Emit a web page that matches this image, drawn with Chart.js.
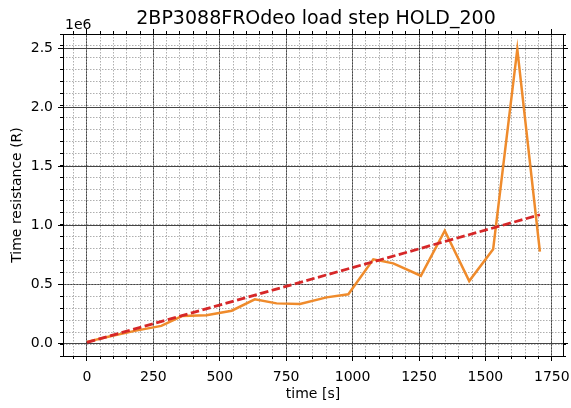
<!DOCTYPE html>
<html>
<head>
<meta charset="utf-8">
<script src="https://cdn.jsdelivr.net/npm/chart.js@4/dist/chart.umd.min.js"></script>
<style>
  body { margin: 0; background: #fff; }
  #chart { display: block; }
</style>
</head>
<body>
<canvas id="chart" width="571" height="408"></canvas>
<script>
// measured hold step: time [s] vs. time resistance (R)
var times = [0, 92, 185, 280, 358, 450, 545, 632, 714, 802, 902, 984, 1078, 1153, 1257, 1347, 1439, 1529, 1620, 1705];
var resistance = [10000, 60000, 105000, 145000, 229000, 235000, 274000, 370000, 336000, 330000, 387000, 413000,
                  709000, 675000, 570000, 952000, 525000, 794000, 2490000, 774000];

// linear trend over the same step
var trendTimes = [0, 1705];
var trendValues = [5000, 1087000];

var xMajorTicks = [0, 250, 500, 750, 1000, 1250, 1500, 1750];
var xTickLabels = ["0", "250", "500", "750", "1000", "1250", "1500", "1750"];
var yMajorTicks = [0, 500000, 1000000, 1500000, 2000000, 2500000];
var yTickLabels = ["0.0", "0.5", "1.0", "1.5", "2.0", "2.5"];

var TITLE = "2BP3088FROdeo load step HOLD_200";

var X_MIN = -90, X_MAX = 1792;
var Y_MIN = -110000, Y_MAX = 2619000;

var FONT = "'DejaVu Sans', sans-serif";
var MAJOR_GRID = "#444";
var MINOR_GRID = "#9a9a9a";

function toPoints(xs, ys) {
  return xs.map(function(x, i) { return { x: x, y: ys[i] }; });
}

// force a scale box to a fixed thickness so the plot frame lands where we want it
function pinSize(size) {
  return function(scale) {
    if (scale.isHorizontal()) scale.height = size;
    else scale.width = size;
    scale.paddingLeft = scale.paddingRight = 0;
    scale.paddingTop = scale.paddingBottom = 0;
  };
}

function majorTicks(values) {
  return function(scale) {
    scale.ticks = values.map(function(v) { return { value: v }; });
  };
}

// tick-only axis used for the minor dotted grid and for the top/right tick marks
function tickAxis(position, weight, min, max, opts) {
  return {
    type: "linear",
    position: position,
    weight: weight,
    min: min,
    max: max,
    afterBuildTicks: opts.values ? majorTicks(opts.values) : undefined,
    ticks: { display: false, stepSize: opts.step, includeBounds: false },
    grid: {
      drawOnChartArea: !!opts.grid,
      color: MINOR_GRID,
      lineWidth: 0.8,
      tickLength: opts.tickLength,
      tickColor: "#000",
      tickWidth: 1
    },
    border: { display: !!opts.border, color: "#000", width: 1, dash: opts.grid ? [1.5, 1.5] : [] },
    afterFit: pinSize(0)
  };
}

// title centred on the plot frame, plus the 1e6 multiplier over the y axis
var frameText = {
  id: "frameText",
  afterDraw: function(chart) {
    var ctx = chart.ctx;
    var area = chart.chartArea;
    ctx.save();
    ctx.fillStyle = "#000";
    ctx.textBaseline = "alphabetic";

    ctx.font = "19px " + FONT;
    ctx.textAlign = "center";
    ctx.fillText(TITLE, (area.left + area.right) / 2 + 3, 24);

    ctx.font = "14px " + FONT;
    ctx.textAlign = "left";
    ctx.fillText("1e6", area.left + 2, area.top - 5);
    ctx.restore();
  }
};

var ctx = document.getElementById("chart").getContext("2d");
var chart = new Chart(ctx, {
  type: "line",
  data: {
    datasets: [
      {
        label: "trend",
        data: toPoints(trendTimes, trendValues),
        borderColor: "#d62728",
        borderWidth: 2.8,
        borderDash: [8.5, 3.5],
        pointRadius: 0,
        fill: false,
        tension: 0
      },
      {
        label: "HOLD_200",
        data: toPoints(times, resistance),
        borderColor: "#ef8b2c",
        borderWidth: 2.5,
        pointRadius: 0,
        fill: false,
        tension: 0
      }
    ]
  },
  options: {
    responsive: false,
    animation: false,
    devicePixelRatio: 1,
    layout: { padding: { left: 0, right: 8, top: 34, bottom: 0 } },
    plugins: {
      legend: { display: false },
      tooltip: { enabled: false },
      title: { display: false }
    },
    scales: {
      x: {
        type: "linear",
        position: "bottom",
        weight: 1,
        min: X_MIN,
        max: X_MAX,
        afterBuildTicks: majorTicks(xMajorTicks),
        ticks: {
          color: "#000",
          font: { family: FONT, size: 14 },
          padding: 8,
          maxRotation: 0,
          autoSkip: false,
          callback: function(v, i) { return xTickLabels[i]; }
        },
        grid: { color: MAJOR_GRID, lineWidth: 1, tickLength: 5, tickColor: "#000", tickWidth: 1 },
        border: { display: true, color: "#000", width: 1 },
        title: {
          display: true,
          text: "time [s]",
          color: "#000",
          font: { family: FONT, size: 14 },
          padding: { top: 4, bottom: 5 }
        },
        afterFit: pinSize(52)
      },
      xMinor: tickAxis("bottom", 0, X_MIN, X_MAX, { step: 50, tickLength: 3, grid: true }),
      xTop: tickAxis("top", 1, X_MIN, X_MAX, { values: xMajorTicks, tickLength: 5, border: true }),
      xTopMinor: tickAxis("top", 0, X_MIN, X_MAX, { step: 50, tickLength: 3 }),
      y: {
        type: "linear",
        position: "left",
        weight: 1,
        min: Y_MIN,
        max: Y_MAX,
        afterBuildTicks: majorTicks(yMajorTicks),
        ticks: {
          color: "#000",
          font: { family: FONT, size: 14 },
          padding: 5,
          autoSkip: false,
          callback: function(v, i) { return yTickLabels[i]; }
        },
        grid: { color: MAJOR_GRID, lineWidth: 1, tickLength: 5, tickColor: "#000", tickWidth: 1 },
        border: { display: true, color: "#000", width: 1 },
        title: {
          display: true,
          text: "Time resistance (R)",
          color: "#000",
          font: { family: FONT, size: 14 },
          padding: { top: 9, bottom: 4 }
        },
        afterFit: pinSize(63)
      },
      yMinor: tickAxis("left", 0, Y_MIN, Y_MAX, { step: 100000, tickLength: 3, grid: true }),
      yRight: tickAxis("right", 1, Y_MIN, Y_MAX, { values: yMajorTicks, tickLength: 5, border: true }),
      yRightMinor: tickAxis("right", 0, Y_MIN, Y_MAX, { step: 100000, tickLength: 3 })
    }
  },
  plugins: [frameText]
});
</script>
</body>
</html>
